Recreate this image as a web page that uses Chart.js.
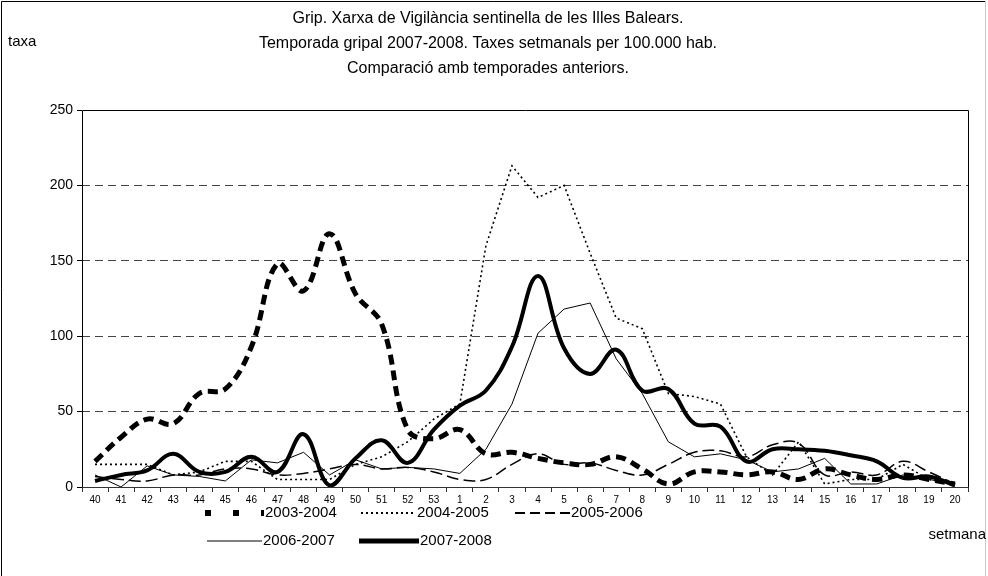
<!DOCTYPE html>
<html>
<head>
<meta charset="utf-8">
<script src="https://cdn.jsdelivr.net/npm/chart.js@4.4.0/dist/chart.umd.min.js"></script>
<style>
  body { margin: 0; background: #fff; }
  #wrap { width: 988px; height: 576px; }
</style>
</head>
<body>
<div id="wrap"><canvas id="gripChart" width="988" height="576"></canvas></div>
<script>
var setmanes = ['40','41','42','43','44','45','46','47','48','49','50','51','52','53',
    '1','2','3','4','5','6','7','8','9','10','11','12','13','14','15','16','17','18','19','20'];

var temp0304 = [17,33,45,42,62,65,93,148,130,168,128,108,38,32,
    38,22,23,19,16,15,20,12,2,10,10,8,10,5,12,8,5,8,5,2];
var temp0405 = [15,15,15,8,10,17,17,5,5,5,15,20,30,45,
    55,160,213,192,200,155,112,105,62,60,55,20,8,30,2,5,5,15,5,2];
var temp0506 = [7,5,4,8,8,12,12,8,9,12,15,12,13,10,
    5,5,15,22,15,16,11,8,15,23,24,20,28,29,8,10,8,17,10,2];
var temp0607 = [8,0,14,8,7,4,18,16,23,8,18,12,13,12,
    9,25,55,102,118,122,85,62,30,20,22,18,10,12,19,2,2,8,5,2];
var temp0708 = [4,8,11,22,10,10,20,10,35,1,19,31,16,38,
    54,64,93,140,92,75,91,64,65,42,40,17,25,25,24,21,17,6,7,1];

var yTicks = [0, 50, 100, 150, 200, 250];

var titol = ['Grip. Xarxa de Vigilància sentinella de les Illes Balears.',
    'Temporada gripal 2007-2008. Taxes setmanals per 100.000 hab.',
    'Comparació amb temporades anteriors.'];

var fontName = "'Liberation Sans', Arial, sans-serif";

// estils de les series (també per a la llegenda)
var estils = [
    {label: '2003-2004', data: temp0304, width: 5, dash: [10, 6], tension: 0.4, legDash: [6, 22], legWidth: 6},
    {label: '2004-2005', data: temp0405, width: 1.6, dash: [2, 3], tension: 0, legDash: [2, 3], legWidth: 2},
    {label: '2005-2006', data: temp0506, width: 1.5, dash: [12, 5], tension: 0.4, legDash: [10, 5], legWidth: 2},
    {label: '2006-2007', data: temp0607, width: 1, dash: [], tension: 0, legDash: [], legWidth: 1},
    {label: '2007-2008', data: temp0708, width: 4, dash: [], tension: 0.4, legDash: [], legWidth: 5}
];

// posicions de la llegenda: [x inici mostra, x final mostra, y]
var legPos = [[205, 264, 513], [361, 416, 513], [515, 570, 513], [207, 262, 541], [359, 419, 541]];

var textsPlugin = {
    id: 'textsPlugin',
    beforeDraw: function(chart) {
        var ctx = chart.ctx;
        ctx.save();
        ctx.fillStyle = '#fff';
        ctx.fillRect(0, 0, chart.width, chart.height);
        ctx.restore();
    },
    afterDraw: function(chart) {
        var ctx = chart.ctx;
        var a = chart.chartArea;
        ctx.save();
        // marc de l'area del grafic
        ctx.strokeStyle = '#000';
        ctx.lineWidth = 1;
        ctx.setLineDash([]);
        ctx.beginPath();
        ctx.moveTo(Math.round(a.left) + 0.5, Math.round(a.bottom));
        ctx.lineTo(Math.round(a.left) + 0.5, Math.round(a.top) + 0.5);
        ctx.lineTo(Math.round(a.right) + 0.5, Math.round(a.top) + 0.5);
        ctx.lineTo(Math.round(a.right) + 0.5, Math.round(a.bottom));
        ctx.stroke();
        ctx.strokeStyle = '#333';
        ctx.beginPath();
        ctx.moveTo(Math.round(a.left), Math.round(a.bottom) + 0.5);
        ctx.lineTo(Math.round(a.right) + 1, Math.round(a.bottom) + 0.5);
        ctx.stroke();

        // marc exterior
        ctx.strokeStyle = '#000';
        ctx.beginPath();
        ctx.moveTo(1.5, 576);
        ctx.lineTo(1.5, 1.5);
        ctx.lineTo(985, 1.5);
        ctx.stroke();
        ctx.strokeStyle = '#c8c8c8';
        ctx.beginPath();
        ctx.moveTo(985.5, 1);
        ctx.lineTo(985.5, 576);
        ctx.stroke();

        ctx.fillStyle = '#000';
        ctx.font = '16px ' + fontName;
        ctx.textBaseline = 'middle';
        ctx.textAlign = 'center';
        titol.forEach(function(t, i) {
            ctx.fillText(t, 488, 19 + i * 25);
        });
        ctx.font = '15px ' + fontName;
        ctx.textAlign = 'left';
        ctx.fillText('taxa', 8, 42);
        ctx.textAlign = 'right';
        ctx.fillText('setmana', 986, 535);

        // llegenda
        estils.forEach(function(s, i) {
            var p = legPos[i];
            ctx.strokeStyle = '#000';
            ctx.lineWidth = s.legWidth;
            ctx.setLineDash(s.legDash);
            ctx.lineCap = 'butt';
            ctx.beginPath();
            ctx.moveTo(p[0], p[2]);
            ctx.lineTo(p[1], p[2]);
            ctx.stroke();
            ctx.setLineDash([]);
            ctx.textAlign = 'left';
            ctx.font = '15px ' + fontName;
            ctx.fillText(s.label, p[1] + 1, p[2]);
        });
        ctx.restore();
    }
};

var gripCtx = document.getElementById('gripChart').getContext('2d');
var gripChart = new Chart(gripCtx, {
    type: 'line',
    data: {
        labels: setmanes,
        datasets: estils.map(function(s) {
            return {
                label: s.label,
                data: s.data,
                borderColor: '#000',
                backgroundColor: '#000',
                borderWidth: s.width,
                borderDash: s.dash,
                tension: s.tension,
                pointRadius: 0,
                fill: false
            };
        })
    },
    options: {
        responsive: false,
        animation: false,
        layout: { padding: { top: 110, right: 20, left: 0, bottom: 0 } },
        plugins: {
            legend: { display: false },
            title: { display: false },
            tooltip: { enabled: false }
        },
        scales: {
            x: {
                offset: true,
                grid: {
                    offset: true,
                    drawOnChartArea: false,
                    drawTicks: true,
                    tickLength: 5,
                    tickColor: '#333'
                },
                border: { display: false },
                ticks: {
                    color: '#000',
                    font: { family: fontName, size: 10 },
                    padding: 2,
                    maxRotation: 0,
                    autoSkip: false
                },
                afterFit: function(scale) { scale.height = 89; }
            },
            y: {
                min: 0,
                max: 250,
                afterBuildTicks: function(scale) {
                    scale.ticks = yTicks.map(function(v) { return {value: v}; });
                },
                grid: {
                    color: function(c) {
                        if (c.tick && (c.tick.value === 0 || c.tick.value === 250)) return 'rgba(0,0,0,0)';
                        return '#444';
                    },
                    tickColor: '#000',
                    tickLength: 5,
                    drawTicks: true
                },
                border: { display: false, dash: [8, 5] },
                ticks: {
                    color: '#000',
                    font: { family: fontName, size: 14 },
                    padding: 4
                },
                afterFit: function(scale) { scale.width = 82; }
            }
        }
    },
    plugins: [textsPlugin]
});
</script>
</body>
</html>
